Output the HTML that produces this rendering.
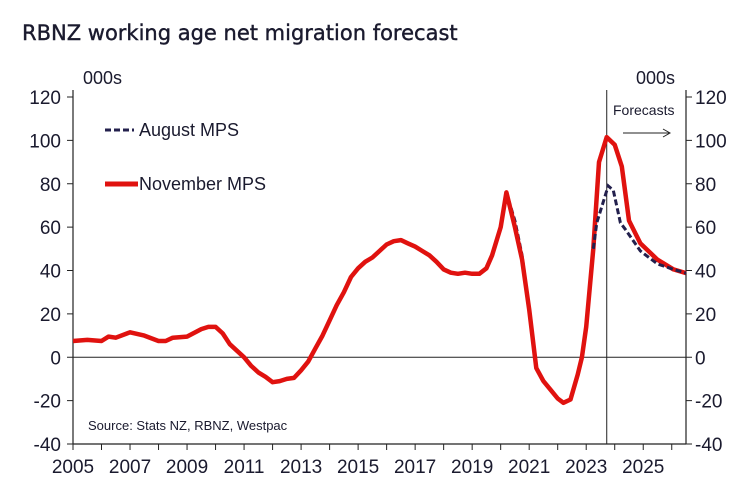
<!DOCTYPE html>
<html><head><meta charset="utf-8"><style>
body{margin:0;background:#fff;}
svg text{font-family:"Liberation Sans",Arial,sans-serif;fill:#1a1a2e;}
</style></head><body>
<svg id="c" width="743" height="496" viewBox="0 0 743 496">
<text x="22" y="40" font-size="21" style="font-family:'DejaVu Sans','Liberation Sans',sans-serif;fill:#1a1a2e;stroke:#1a1a2e;stroke-width:0.4">RBNZ working age net migration forecast</text>
<g id="axes"></g>
<g id="series"></g>
<text x="83" y="84" font-size="18">000s</text>
<text x="636" y="84" font-size="18">000s</text>
<text x="613" y="115" font-size="14">Forecasts</text>
<line x1="623" y1="133" x2="669" y2="133" stroke="#222" stroke-width="1"/>
<path d="M663 129 L670 133 L663 137" fill="none" stroke="#222" stroke-width="1"/>
<g>
<line x1="105" y1="130" x2="134" y2="130" stroke="#23204d" stroke-width="3" stroke-dasharray="6,3"/>
<text x="139" y="136" font-size="18">August MPS</text>
<line x1="105" y1="184" x2="138" y2="184" stroke="#e0120f" stroke-width="5"/>
<text x="139" y="190" font-size="18">November MPS</text>
</g>
<text x="88" y="430" font-size="13">Source: Stats NZ, RBNZ, Westpac</text>
</svg>
<script>
const yTicks=[120,100,80,60,40,20,0,-20,-40];
const xLabels=[2005,2007,2009,2011,2013,2015,2017,2019,2021,2023,2025];
const novYears=[2005,2005.5,2006,2006.25,2006.5,2007,2007.5,2008,2008.25,2008.5,2009,2009.5,2009.75,2010,2010.25,2010.5,2011,2011.25,2011.5,2011.75,2012,2012.25,2012.5,2012.75,2013,2013.25,2013.5,2013.75,2014,2014.25,2014.5,2014.75,2015,2015.25,2015.5,2015.75,2016,2016.25,2016.5,2016.75,2017,2017.25,2017.5,2017.75,2018,2018.25,2018.5,2018.75,2019,2019.25,2019.5,2019.7,2020,2020.2,2020.5,2020.75,2021,2021.25,2021.5,2021.75,2022,2022.2,2022.45,2022.7,2022.85,2023,2023.25,2023.45,2023.72,2024,2024.25,2024.5,2024.9,2025.5,2026.06,2026.5];
const novValues=[7.5,8,7.5,9.5,9,11.5,10,7.5,7.5,9,9.5,13,14,14,11,6,0,-4,-7,-9,-11.5,-11,-10,-9.5,-6,-2,4,10,17,24,30,37,41,44,46,49,52,53.5,54,52.5,51,49,47,44,40.5,39,38.5,39,38.5,38.5,41,47,60,76,60,45,22,-5,-11,-15,-19,-21,-19.5,-8,0,14,50,90,101.5,98,88,63,52.5,45,40.5,38.8];
const augYears=[2019.7,2020,2020.2,2020.5,2020.75,2021,2021.25,2023.25,2023.37,2023.77,2023.95,2024.2,2024.37,2024.9,2025.5,2026.06,2026.5];
const augValues=[47,60,76,63,47,22,-5,50,62,79,77,62,59,49,43,40.5,38.8];
const forecastStart=2023.72;

const L=73,R=686,T=97,B=444,x0=2005,x1=2026.5,yMin=-40,yMax=120;
const X=v=>L+(v-x0)/(x1-x0)*(R-L);
const Y=v=>B-(v-yMin)/(yMax-yMin)*(B-T);
const NS="http://www.w3.org/2000/svg";
const axes=document.getElementById('axes'),ser=document.getElementById('series');
function mk(tag,at,par){const e=document.createElementNS(NS,tag);for(const k in at)e.setAttribute(k,at[k]);par.appendChild(e);return e;}
let e;
e=mk('line',{x1:L,y1:T-7,x2:L,y2:B,stroke:'#222','stroke-width':1.2},axes);


e=mk('line',{x1:R,y1:T-7,x2:R,y2:B,stroke:'#222','stroke-width':1.2},axes);


e=mk('line',{x1:L,y1:B,x2:R,y2:B,stroke:'#222','stroke-width':1.2},axes);


e=mk('line',{x1:L,y1:Y(0),x2:R,y2:Y(0),stroke:'#222','stroke-width':1},axes);


e=mk('line',{x1:X(forecastStart),y1:90,x2:X(forecastStart),y2:B,stroke:'#222','stroke-width':1},axes);


yTicks.forEach(v=>{
 mk('line',{x1:L-6,y1:Y(v),x2:L,y2:Y(v),stroke:'#222'},axes);
 mk('line',{x1:R,y1:Y(v),x2:R+6,y2:Y(v),stroke:'#222'},axes);
 let t=mk('text',{x:L-12,y:Y(v)+7,'font-size':19,'text-anchor':'end'},axes);t.textContent=v;
 
 
 t=mk('text',{x:R+9,y:Y(v)+7,'font-size':19},axes);t.textContent=v;
 
 
});
for(let yr=2005;yr<=2026;yr++){mk('line',{x1:X(yr),y1:B,x2:X(yr),y2:B+6,stroke:'#222'},axes);}
xLabels.forEach(v=>{let t=mk('text',{x:X(v),y:B+29,'font-size':19,'text-anchor':'middle'},axes);t.textContent=v;
 
 });
function pts(xs,vs){return xs.map((x,i)=>X(x).toFixed(1)+','+Y(vs[i]).toFixed(1)).join(' ');}
e=mk('polyline',{points:pts(augYears.slice(0,7),augValues.slice(0,7)),fill:'none',stroke:'#23204d','stroke-width':3,'stroke-dasharray':'6,3'},ser);


e=mk('polyline',{points:pts(novYears,novValues),fill:'none',stroke:'#e0120f','stroke-width':4.5,'stroke-linejoin':'round'},ser);


e=mk('polyline',{points:pts(augYears.slice(7),augValues.slice(7)),fill:'none',stroke:'#23204d','stroke-width':3,'stroke-dasharray':'6,3'},ser);


</script>
</body></html>
